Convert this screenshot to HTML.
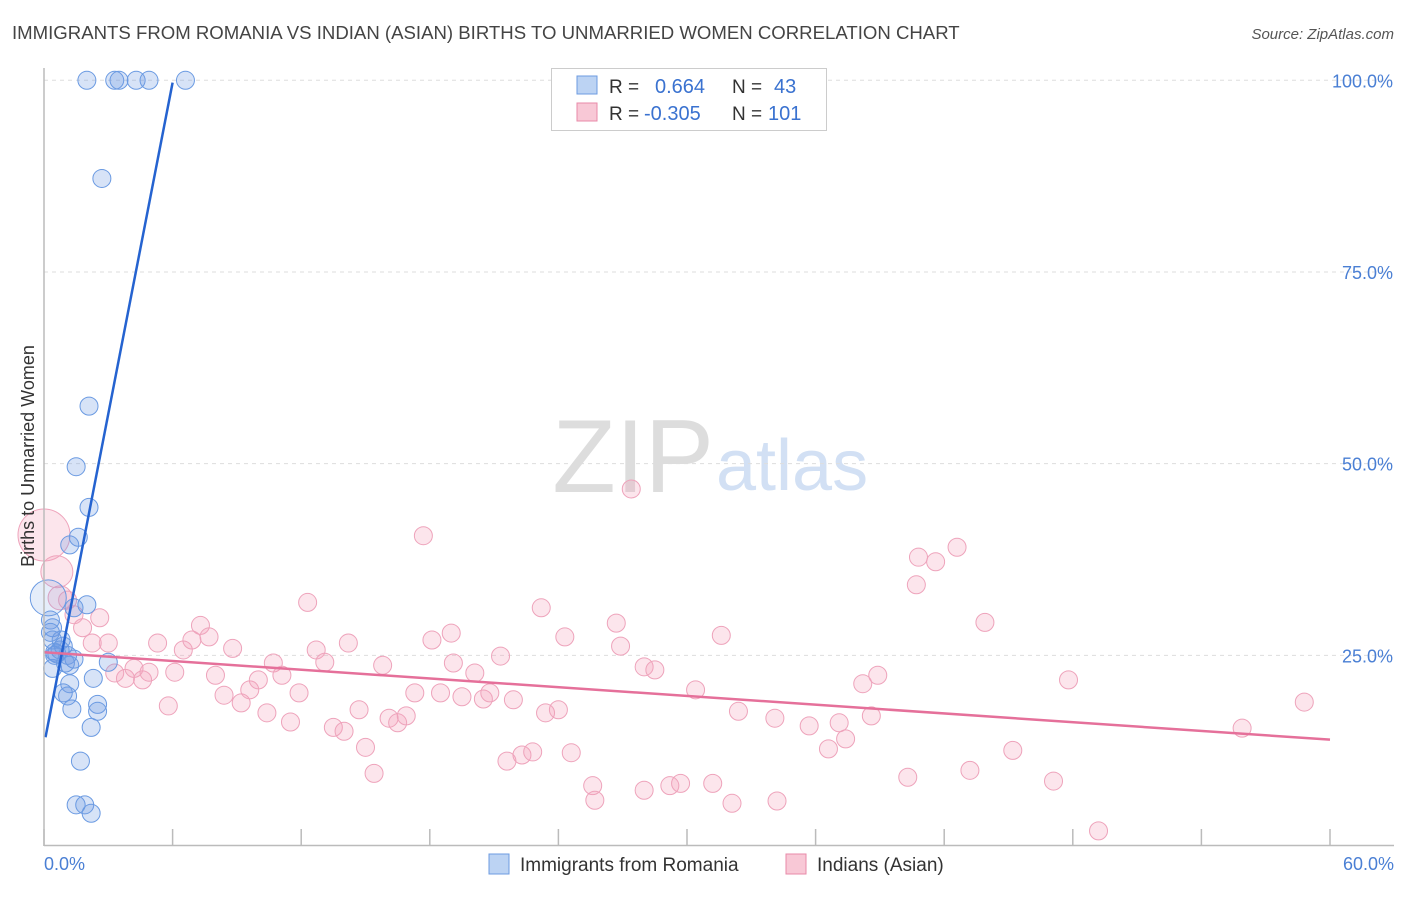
<!DOCTYPE html>
<html><head><meta charset="utf-8"><style>
body{margin:0;background:#fff;font-family:"Liberation Sans",sans-serif;}
svg text{font-family:"Liberation Sans",sans-serif;}
</style></head><body>
<svg id="chart" width="1406" height="892">
<text x="12" y="39" font-size="18.6" fill="#444">IMMIGRANTS FROM ROMANIA VS INDIAN (ASIAN) BIRTHS TO UNMARRIED WOMEN CORRELATION CHART</text>
<text x="1394" y="39" font-size="15" fill="#555" font-style="italic" text-anchor="end">Source: ZipAtlas.com</text>
<text x="714" y="492" font-size="104" fill="#ddd" text-anchor="end" font-family="Liberation Serif">ZIP</text>
<text x="716" y="490" font-size="72" fill="#d2e0f4">atlas</text>
<g id="grid"></g><g id="ticks"></g><g id="pts"></g><g id="trend"></g>
<text transform="translate(34,456) rotate(-90)" font-size="18" fill="#333" text-anchor="middle">Births to Unmarried Women</text>
<line x1="44" y1="68" x2="44" y2="846" stroke="#bbb" stroke-width="1.5"/>
<line x1="44" y1="845.5" x2="1394" y2="845.5" stroke="#bbb" stroke-width="1.5"/>
<text x="44" y="870" font-size="18" fill="#4a7fd4">0.0%</text>
<text x="1394" y="870" font-size="18" fill="#4a7fd4" text-anchor="end">60.0%</text>
<g>
<rect x="551.5" y="68.5" width="275" height="62" fill="#fff" stroke="#ccc"/>
<rect x="577" y="76" width="20" height="18" fill="#bcd3f3" stroke="#6d9be0"/>
<rect x="577" y="103" width="20" height="18" fill="#f8c8d6" stroke="#e88aa8"/>
<text x="609" y="93" font-size="19" fill="#333">R =</text><text x="655" y="93" font-size="20" fill="#3a72d0">0.664</text>
<text x="732" y="93" font-size="19" fill="#333">N =</text><text x="774" y="93" font-size="20" fill="#3a72d0">43</text>
<text x="609" y="120" font-size="19" fill="#333">R =</text><text x="644" y="120" font-size="20" fill="#3a72d0">-0.305</text>
<text x="732" y="120" font-size="19" fill="#333">N =</text><text x="768" y="120" font-size="20" fill="#3a72d0">101</text>
</g>
<g>
<rect x="489" y="854" width="20" height="20" fill="#bcd3f3" stroke="#6d9be0"/>
<text x="520" y="871" font-size="19" fill="#333">Immigrants from Romania</text>
<rect x="786" y="854" width="20" height="20" fill="#f8c8d6" stroke="#e88aa8"/>
<text x="817" y="871" font-size="19" fill="#333">Indians (Asian)</text>
</g>
</svg>
<script>
const yTicks=[25,50,75,100];
const yTickLabels=["25.0%","50.0%","75.0%","100.0%"];
const xTicks=[0,6,12,18,24,30,36,42,48,54,60];
const blueX=[2.0,3.3,3.5,4.3,4.9,6.6,2.7,2.1,1.5,2.1,1.6,1.2,2.0,1.4,0.3,0.4,0.4,0.8,0.75,0.5,1.1,1.0,1.2,3.0,0.4,2.3,1.2,0.9,1.1,2.5,2.5,1.3,2.2,1.7,1.5,1.9,2.2,0.2,0.6,0.9,1.4,0.3,0.5];
const blueY=[100,100,100,100,100,100,87.2,57.5,49.6,44.3,40.4,39.4,31.6,31.2,29.6,28.6,27.0,27.0,25.7,25.4,25.0,24.0,23.7,24.1,23.3,22.0,21.3,20.1,19.7,18.6,17.7,18.0,15.6,11.2,5.5,5.5,4.4,32.5,25.2,26.2,24.5,28.0,25.0];
const pinkX=[0,0.6,0.75,1.1,1.4,1.8,2.6,2.25,3.0,3.3,3.8,4.2,4.6,4.9,5.3,5.8,6.1,6.5,6.9,7.3,7.7,8.0,8.4,8.8,9.2,9.6,10.0,10.4,10.7,11.1,11.5,11.9,12.3,12.7,13.1,13.5,14.0,14.2,14.7,15.0,15.4,15.8,16.1,16.5,16.9,17.3,17.7,18.1,18.5,19.0,19.1,19.5,20.1,20.5,20.8,21.3,21.6,21.9,22.3,22.8,23.2,23.4,24.0,24.3,24.6,25.6,25.7,26.7,26.9,27.4,28.0,28.0,28.5,29.2,29.7,30.4,31.2,31.6,32.1,32.4,34.1,34.2,35.7,36.6,37.1,37.4,38.6,38.2,38.9,40.3,40.7,40.8,41.6,42.6,43.2,43.9,45.2,47.1,47.8,49.2,55.9,58.8];
const pinkY=[40.7,35.9,32.5,32.2,30.3,28.6,29.9,26.6,26.6,22.7,22.0,23.3,21.8,22.8,26.6,18.4,22.8,25.7,27.0,28.9,27.4,22.4,19.8,25.9,18.8,20.5,21.8,17.5,24.0,22.4,16.3,20.1,31.9,25.7,24.1,15.6,15.1,26.6,17.9,13.0,9.6,23.7,16.8,16.2,17.1,20.1,40.6,27.0,20.1,27.9,24.0,19.6,22.7,19.3,20.1,24.9,11.2,19.2,12.0,12.4,31.2,17.5,17.9,27.4,12.3,8.0,6.1,29.2,26.2,46.7,23.5,7.4,23.1,8.0,8.3,20.5,8.3,27.6,5.7,17.7,16.8,6.0,15.8,12.8,16.2,14.1,17.1,21.3,22.4,9.1,34.2,37.8,37.2,39.1,10.0,29.3,12.6,8.6,21.8,2.1,15.5,18.9];
const pinkR=[26,16,12,9,9,9,9,9,9,9];
const blueTrend=[13.3,14.4,0.07,6.0];
const pinkTrend=[25.4,-0.19,0,60];
const NS="http://www.w3.org/2000/svg";
function sx(v){return 44+v/60*1286;}
function sy(v){return 847-v*7.667;}
function mk(t,a,p){const e=document.createElementNS(NS,t);for(const k in a)e.setAttribute(k,a[k]);document.getElementById(p).appendChild(e);return e;}
yTicks.forEach((t,i)=>{
 const l=mk('line',{x1:44,x2:1394,y1:sy(t),y2:sy(t),stroke:'#ddd','stroke-dasharray':'4,4'},'grid');
 
 
 const tx=mk('text',{x:1393,y:sy(t)+7,'font-size':18,fill:'#4a7fd4','text-anchor':'end'},'grid');
 tx.textContent=yTickLabels[i];
 
 
});
xTicks.forEach(t=>{
 const l=mk('line',{x1:sx(t),x2:sx(t),y1:829,y2:846,stroke:'#bbb','stroke-width':1.5},'ticks');
 
 
});
pinkX.forEach((x,i)=>{
 const c=mk('circle',{cx:sx(x),cy:sy(pinkY[i]),r:pinkR[i]||9,fill:'rgba(244,160,188,0.28)',stroke:'#eea3bb','stroke-width':1},'pts');
 
 
});
blueX.forEach((x,i)=>{
 const c=mk('circle',{cx:sx(x),cy:sy(blueY[i]),r:i==37?18:9,fill:i==37?'rgba(110,155,225,0.18)':'rgba(110,155,225,0.28)',stroke:'#6a9ae2','stroke-width':1},'pts');
 
 
});
const bl=mk('line',{x1:sx(blueTrend[2]),y1:sy(blueTrend[0]+blueTrend[1]*blueTrend[2]),x2:sx(blueTrend[3]),y2:sy(blueTrend[0]+blueTrend[1]*blueTrend[3]),stroke:'#2563d0','stroke-width':2.5},'trend');


const pl=mk('line',{x1:sx(pinkTrend[2]),y1:sy(pinkTrend[0]+pinkTrend[1]*pinkTrend[2]),x2:sx(pinkTrend[3]),y2:sy(pinkTrend[0]+pinkTrend[1]*pinkTrend[3]),stroke:'#e5709a','stroke-width':2.5},'trend');


</script>
</body></html>
